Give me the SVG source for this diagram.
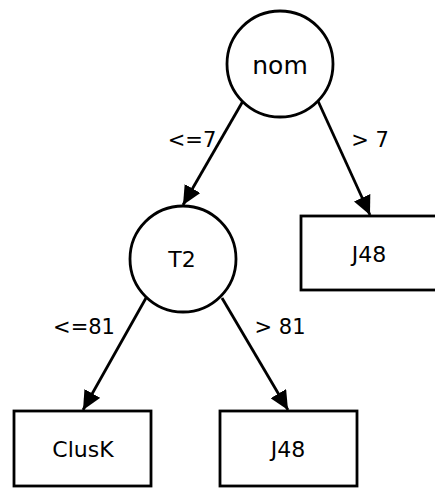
<svg xmlns="http://www.w3.org/2000/svg" width="435" height="488" viewBox="0 0 435 488">
  <defs>
    <marker id="arrow" markerUnits="userSpaceOnUse" markerWidth="20" markerHeight="18" refX="19" refY="9" orient="auto">
      <path d="M0,0 L19,9 L0,18 Z" fill="#000"/>
    </marker>
    <style>
      .node circle, .node rect { fill: #fff; stroke: #000; stroke-width: 2.8; }
      .node text { font-family: "DejaVu Sans", sans-serif; text-anchor: middle; fill: #000; }
      .edges line { stroke: #000; stroke-width: 2.8; marker-end: url(#arrow); }
      .edges text { font-family: "DejaVu Sans", sans-serif; font-size: 21px; fill: #000; text-anchor: middle; }
    </style>
  </defs>

  <rect width="435" height="488" fill="#fff"/>

  <g class="edges">
    <line x1="243" y1="101" x2="183" y2="205"/>
    <text x="192" y="147">&lt;=7</text>
    <line x1="318" y1="101" x2="370" y2="215"/>
    <text x="370" y="147">&gt; 7</text>
    <line x1="146" y1="298" x2="83" y2="410"/>
    <text x="84" y="334">&lt;=81</text>
    <line x1="222" y1="298" x2="288" y2="410"/>
    <text x="280" y="334">&gt; 81</text>
  </g>

  <g id="node-nom" class="node">
    <circle cx="280" cy="64" r="53"/>
    <text x="280" y="74" font-size="25">nom</text>
  </g>

  <g id="node-t2" class="node">
    <circle cx="183" cy="259" r="53"/>
    <text x="182" y="267" font-size="22">T2</text>
  </g>

  <g id="node-j48-right" class="node">
    <rect x="301" y="216" width="137" height="74"/>
    <text x="369" y="262" font-size="22">J48</text>
  </g>

  <g id="node-clusk" class="node">
    <rect x="14" y="411" width="137" height="75"/>
    <text x="83" y="457" font-size="22">ClusK</text>
  </g>

  <g id="node-j48-bottom" class="node">
    <rect x="220" y="411" width="137" height="75"/>
    <text x="288" y="457" font-size="22">J48</text>
  </g>
</svg>
